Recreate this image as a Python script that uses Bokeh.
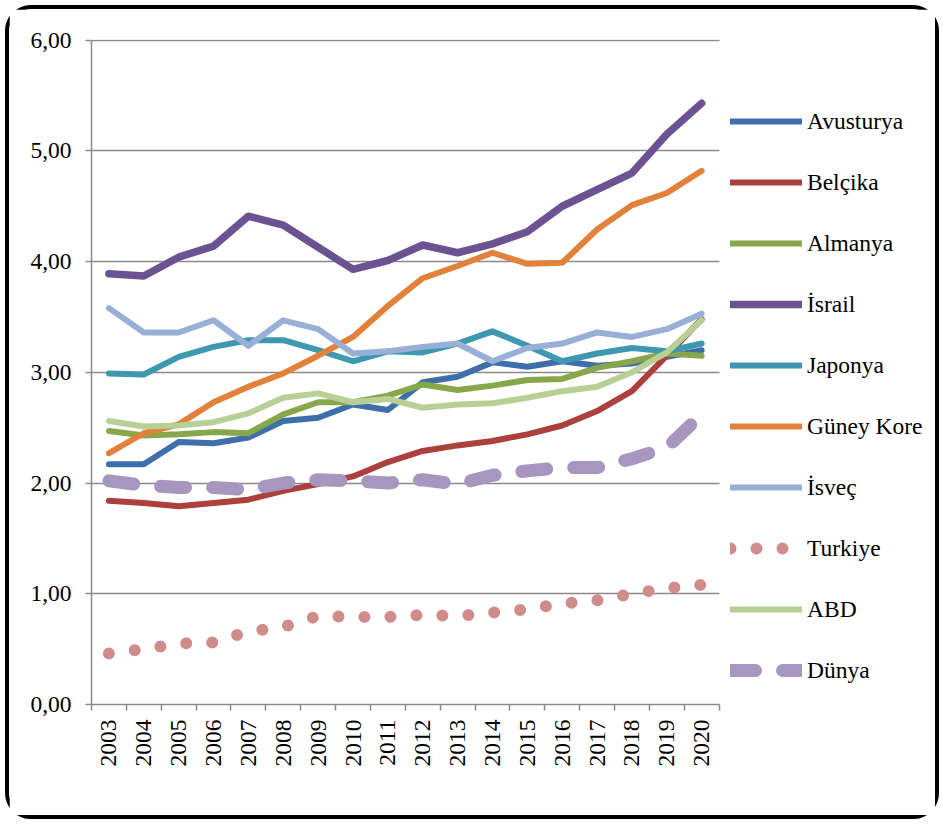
import math
from bokeh.plotting import figure
from bokeh.models import FixedTicker, Legend, LegendItem, Range1d
from bokeh.embed import file_html
from bokeh.resources import INLINE

years = list(range(2003, 2021))

avusturya = [2.17, 2.17, 2.37, 2.36, 2.41, 2.56, 2.59, 2.71, 2.66, 2.91, 2.96, 3.09, 3.05, 3.10, 3.06, 3.08, 3.14, 3.20]
belcika = [1.84, 1.82, 1.79, 1.82, 1.85, 1.93, 1.99, 2.06, 2.19, 2.29, 2.34, 2.38, 2.44, 2.52, 2.65, 2.83, 3.15, 3.48]
almanya = [2.47, 2.43, 2.44, 2.46, 2.45, 2.62, 2.73, 2.73, 2.79, 2.89, 2.84, 2.88, 2.93, 2.94, 3.04, 3.10, 3.17, 3.15]
israil = [3.89, 3.87, 4.04, 4.14, 4.41, 4.33, 4.13, 3.93, 4.01, 4.15, 4.08, 4.16, 4.27, 4.50, 4.65, 4.80, 5.15, 5.43]
japonya = [2.99, 2.98, 3.14, 3.23, 3.29, 3.29, 3.20, 3.10, 3.19, 3.18, 3.26, 3.37, 3.24, 3.10, 3.17, 3.22, 3.19, 3.26]
guney_kore = [2.27, 2.45, 2.53, 2.73, 2.87, 2.99, 3.15, 3.32, 3.60, 3.85, 3.96, 4.08, 3.98, 3.99, 4.29, 4.51, 4.62, 4.82]
isvec = [3.58, 3.36, 3.36, 3.47, 3.24, 3.47, 3.39, 3.17, 3.19, 3.23, 3.26, 3.10, 3.22, 3.26, 3.36, 3.32, 3.39, 3.53]
turkiye = [0.46, 0.50, 0.55, 0.56, 0.66, 0.70, 0.80, 0.79, 0.79, 0.81, 0.80, 0.83, 0.86, 0.91, 0.94, 1.00, 1.05, 1.08]
abd = [2.56, 2.51, 2.52, 2.55, 2.63, 2.77, 2.81, 2.73, 2.76, 2.68, 2.71, 2.72, 2.77, 2.83, 2.87, 3.00, 3.18, 3.47]
dunya = [2.02, 1.98, 1.96, 1.96, 1.94, 2.00, 2.03, 2.02, 2.00, 2.03, 1.99, 2.07, 2.11, 2.14, 2.14, 2.22, 2.32, 2.62]

series_names = ["Avusturya", "Belçika", "Almanya", "İsrail", "Japonya",
                "Güney Kore", "İsveç", "Turkiye", "ABD", "Dünya"]
series_values = [avusturya, belcika, almanya, israil, japonya,
                 guney_kore, isvec, turkiye, abd, dunya]

y_ticks = [0, 1, 2, 3, 4, 5, 6]
y_tick_labels = ["0,00", "1,00", "2,00", "3,00", "4,00", "5,00", "6,00"]

colors = ["#3F6FAA", "#AC403C", "#88A64A", "#6B5391", "#3E98AF",
          "#E2823A", "#98B0D6", "#D08C8B", "#B8D096", "#A797BE"]
widths = [6, 6, 6, 7.5, 6, 6, 6, 12, 6, 13]
dashes = ["solid"] * 7 + ["0 26", "solid", "25 27"]

FONT = "Liberation Serif"
FS = "23.5px"
GRAY = "#8a8a8a"

# layout (pixels): the frame also hosts the legend area on its right
W, H = 926, 806
BORDER = 4
LEFT, TOP, RIGHT, BOTTOM = 82, 30, 9, 119
PLOT_W = 627.6                     # width of the data area inside the frame
FRAME_W = W + 2 * BORDER - LEFT - RIGHT   # the canvas takes the outer box size
x0, x1 = years[0] - 0.5, years[-1] + 0.5
x_end = x0 + (x1 - x0) * FRAME_W / PLOT_W

p = figure(width=W, height=H, output_backend="svg", toolbar_location=None,
           x_range=Range1d(x0, x_end), y_range=Range1d(0, 6.006),
           min_border_left=LEFT, min_border_top=TOP, min_border_right=RIGHT,
           min_border_bottom=BOTTOM)
p.outline_line_color = None
p.background_fill_color = "white"
p.border_fill_color = "white"
p.styles = {"border": f"{BORDER}px solid black", "border-radius": "26px",
            "box-sizing": "content-box",
            "margin-left": "5px", "margin-top": "5px"}

# horizontal grid limited to the data area
p.xgrid.visible = False
p.ygrid.ticker = FixedTicker(ticks=y_ticks)
p.ygrid.grid_line_color = GRAY
p.ygrid.grid_line_width = 1.5
grid = p.ygrid[0]
if "cross_bounds" in grid.properties():
    grid.cross_bounds = (x0, x1)
else:
    grid.visible = False
    p.segment(x0=[x0] * len(y_ticks), x1=[x1] * len(y_ticks), y0=y_ticks, y1=y_ticks,
              line_color=GRAY, line_width=1.5)

renderers = []
for name, vals, c, w, d in zip(series_names, series_values, colors, widths, dashes):
    r = p.line(years, vals, line_color=c, line_width=w, line_dash=d,
               line_cap="round", line_join="round")
    renderers.append(r)

# x axis
p.xaxis.bounds = (x0, x1)
p.xaxis.ticker = FixedTicker(ticks=years,
                             minor_ticks=[y - 0.5 for y in years] + [years[-1] + 0.5])
p.xaxis.major_tick_line_color = None
p.xaxis.major_tick_out = 6
p.xaxis.major_tick_in = 0
p.xaxis.minor_tick_line_color = GRAY
p.xaxis.minor_tick_line_width = 1.5
p.xaxis.minor_tick_out = 6
p.xaxis.minor_tick_in = 0
p.xaxis.major_label_orientation = math.pi / 2
p.xaxis.major_label_standoff = 9
p.xaxis.major_label_overrides = {y: str(y) for y in years}

# y axis
p.yaxis.bounds = (0, 6)
p.yaxis.ticker = FixedTicker(ticks=y_ticks, minor_ticks=[])
p.yaxis.major_label_overrides = dict(zip(y_ticks, y_tick_labels))
p.yaxis.major_tick_out = 6
p.yaxis.major_tick_in = 0
p.yaxis.major_tick_line_color = GRAY
p.yaxis.major_tick_line_width = 1.5
p.yaxis.major_label_standoff = 14

for ax in (p.xaxis, p.yaxis):
    ax.axis_line_color = GRAY
    ax.axis_line_width = 1.5
    ax.major_label_text_font = FONT
    ax.major_label_text_font_size = FS
    ax.major_label_text_color = "black"

legend = Legend(items=[LegendItem(label=n, renderers=[r]) for n, r in zip(series_names, renderers)],
                location=(639, 19), padding=0, margin=0, spacing=31,
                glyph_width=72, glyph_height=30, label_height=30, label_standoff=5,
                border_line_color=None, background_fill_alpha=0,
                label_text_font=FONT, label_text_font_size=FS, label_text_color="black")
p.add_layout(legend, "center")

open("out.html", "w").write(file_html(p, INLINE))
